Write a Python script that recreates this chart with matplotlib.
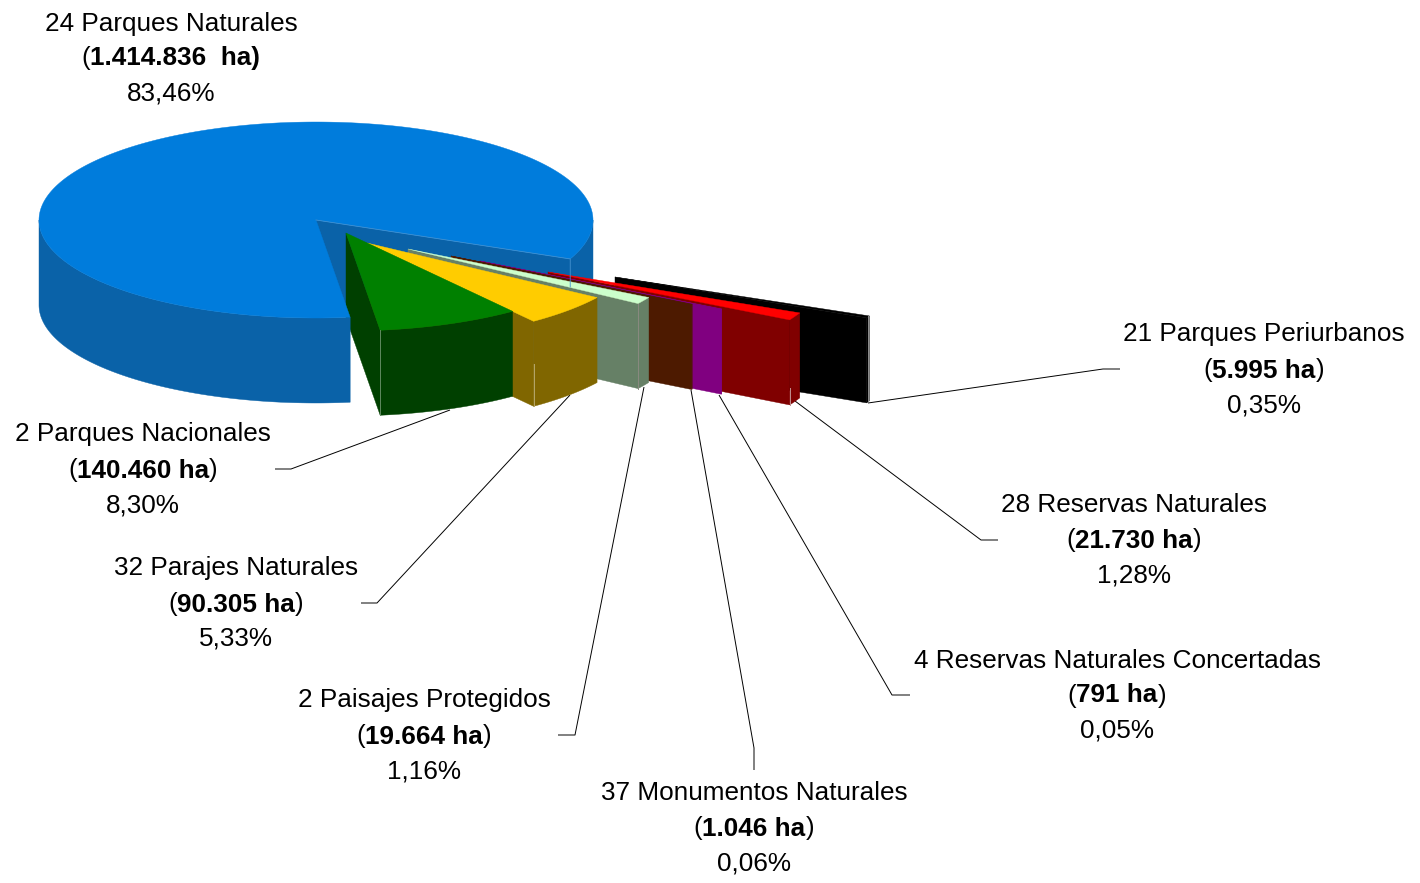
import numpy as np
import matplotlib
matplotlib.use("Agg")
import matplotlib.pyplot as plt
from matplotlib.patches import Polygon

# ---- data ----
names = ["24 Parques Naturales", "2 Parques Nacionales", "32 Parajes Naturales",
         "2 Paisajes Protegidos", "37 Monumentos Naturales",
         "4 Reservas Naturales Concertadas", "28 Reservas Naturales", "21 Parques Periurbanos"]
areas = ["1.414.836  ha)", "140.460 ha", "90.305 ha", "19.664 ha", "1.046 ha", "791 ha", "21.730 ha", "5.995 ha"]
closers = ["", ")", ")", ")", ")", ")", ")", ")"]
shares = [83.46, 8.30, 5.33, 1.16, 0.06, 0.05, 1.28, 0.35]
shares_txt = ["83,46%", "8,30%", "5,33%", "1,16%", "0,06%", "0,05%", "1,28%", "0,35%"]

# ---- style / layout ----
top_col = ["#007CDC", "#008000", "#FFCC00", "#CCFFCC", "#4D1A00", "#800080", "#FF0000", "#000000"]
side_col = ["#0A62A8", "#004000", "#806600", "#668066", "#4D1A00", "#800080", "#800000", "#000000"]
explode_x = [0, 30, 51, 92, 135, 164, 232, 299]
explode_y = [0, 13, 23, 29, 36, 41, 52, 57]
# where the pale corner hairline starts (fraction of the depth), None for no hairline
hair_from = [None, 0.0, 0.5, 0.0, None, None, 0.8, None]
hair_col = [None, "#5F8A5F", "#B5A76A", "#8A8A80", None, None, "#C09090", None]
label_x = [171, 143, 236, 424, 754, 1117, 1134, 1264]
label_y = [(22, 57, 92), (433, 469, 504), (567, 603, 637), (699, 735, 770),
           (792, 827, 862), (659, 694, 729), (504, 539, 574), (333, 369, 404)]
leaders = [None,
           [(450, 410), (291, 469), (275, 469)],
           [(570, 395), (377, 603), (361, 603)],
           [(644, 387), (575, 735), (558, 735)],
           [(691, 390), (754, 748), (754, 770)],
           [(719, 395), (892, 695), (910, 695)],
           [(795, 401), (981, 540), (998, 540)],
           [(868, 403), (1103, 369), (1120, 369)]]
CX, CY, RX, RY, DEPTH = 316, 220, 277, 98, 85
START = -23.4
FS = 18.8
TEXT_DY = 1.5
FONT = "Liberation Sans"

fig = plt.figure(figsize=(14.2, 8.83), dpi=100)
ax = fig.add_axes([0, 0, 1, 1])
ax.set_xlim(0, 1420)
ax.set_ylim(883, 0)
ax.axis("off")

total = sum(shares)
edges = START + np.concatenate([[0], np.cumsum(shares)]) * 360.0 / total


def pt(i, deg, drop=0):
    t = np.radians(deg)
    return (CX + explode_x[i] + RX * np.cos(t), CY + explode_y[i] - RY * np.sin(t) + drop)


def arc(i, a, b, drop=0):
    n = max(2, int(abs(b - a) * 2) + 2)
    return [pt(i, d, drop) for d in np.linspace(a, b, n)]


def apex(i, drop=0):
    return (CX + explode_x[i], CY + explode_y[i] + drop)


def poly(points, col, z):
    ax.add_patch(Polygon(points, closed=True, facecolor=col, edgecolor=col, lw=0.3, zorder=z))


def front_ranges(a, b):
    out = []
    for k in (-1, 0, 1):
        lo, hi = max(a, 360 * k - 180), min(b, 360 * k)
        if hi > lo:
            out.append((lo, hi))
    return out


def wall(i, lo, hi, z):
    poly(arc(i, lo, hi) + arc(i, hi, lo, DEPTH), side_col[i], z)


def cut(i, z):
    a = edges[i]
    poly([apex(i), pt(i, a), pt(i, a, DEPTH), apex(i, DEPTH)], side_col[i], z)


def top(i, z):
    poly([apex(i)] + arc(i, edges[i], edges[i + 1]), top_col[i], z)


z = 2
# blue: rear parts first
cut(0, z); z += 1
ranges = front_ranges(edges[0], edges[1])
wall(0, *ranges[0], z); z += 1
# exploded slices, from the far right to the near left
for i in range(len(shares) - 1, 0, -1):
    for lo, hi in front_ranges(edges[i], edges[i + 1]):
        wall(i, lo, hi, z); z += 1
    cut(i, z); z += 1
    top(i, z); z += 1
    if hair_from[i] is not None:
        x, y = pt(i, edges[i])
        ax.plot([x, x], [y + DEPTH * hair_from[i], y + DEPTH], color=hair_col[i], lw=0.7, zorder=z)
        z += 1
# right edge of the black slice
x, y = pt(7, edges[8])
ax.plot([x - 1, x - 1], [y, y + DEPTH], color="#909090", lw=0.7, zorder=z); z += 1
# blue: near parts last
for lo, hi in ranges[1:]:
    wall(0, lo, hi, z); z += 1
top(0, z); z += 1
# pale edge of the cut in the blue slice
x, y = pt(0, edges[0])
ax.plot([CX, x, x], [CY, y, y + 28], color="#3F8FD0", lw=0.6, zorder=z); z += 1

# leader lines
for seg in leaders:
    if seg:
        xs, ys = zip(*seg)
        ax.plot(xs, ys, color="black", lw=0.7, zorder=1, solid_capstyle="butt")

# labels
fig.canvas.draw()
rend = fig.canvas.get_renderer()


def width(s, weight):
    t = ax.text(0, 0, s, fontsize=FS, family=FONT, fontweight=weight)
    w = t.get_window_extent(rend).width
    t.remove()
    return w


for i in range(len(names)):
    ys = [v + TEXT_DY for v in label_y[i]]
    kw = dict(fontsize=FS, family=FONT, va="center", color="black", zorder=500)
    ax.text(label_x[i], ys[0], names[i], ha="center", **kw)
    ax.text(label_x[i], ys[2], shares_txt[i], ha="center", **kw)
    bold = areas[i].replace(" ", "\u00a0")
    w0, w1 = width("(", "normal"), width(bold, "bold")
    w2 = width(closers[i], "normal") if closers[i] else 0
    x = label_x[i] - (w0 + w1 + w2) / 2
    ax.text(x, ys[1], "(", ha="left", **kw)
    ax.text(x + w0, ys[1], bold, ha="left", fontweight="bold", **kw)
    if closers[i]:
        ax.text(x + w0 + w1, ys[1], closers[i], ha="left", **kw)

fig.savefig("out.png", dpi=100, facecolor="white")
